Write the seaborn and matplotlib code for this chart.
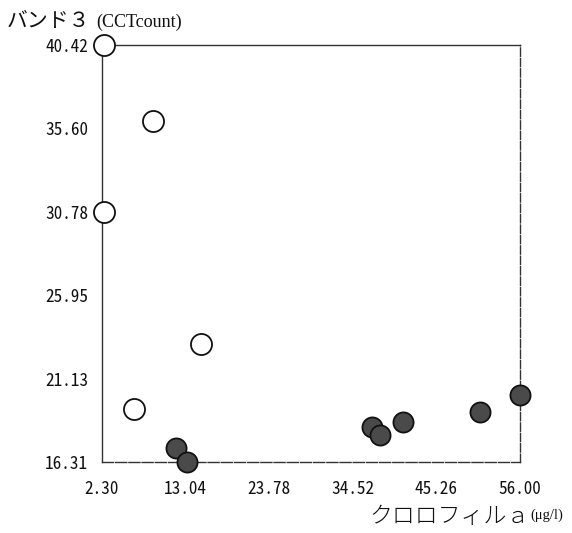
import matplotlib
matplotlib.use("Agg")
import matplotlib.pyplot as plt
import seaborn as sns
import pandas as pd

# Band 3 count vs chlorophyll-a
open_x = [2.55, 8.85, 2.55, 15.0, 6.4]
open_y = [40.42, 36.05, 30.78, 23.13, 19.37]
filled_x = [11.8, 13.2, 37.0, 38.0, 41.0, 50.9, 56.0]
filled_y = [17.12, 16.33, 18.33, 17.85, 18.62, 19.2, 20.18]

x_ticks = [2.30, 13.04, 23.78, 34.52, 45.26, 56.00]
y_ticks = [16.31, 21.13, 25.95, 30.78, 35.60, 40.42]

sns.set_theme(style="white")
plt.rcParams["font.family"] = ["Noto Sans CJK JP", "DejaVu Sans"]

TICK_FONT = ["Noto Sans Mono CJK JP", "Liberation Mono"]

fig = plt.figure(figsize=(5.72, 5.33), dpi=100)
ax = fig.add_axes([0.1783, 0.1332, 0.7308, 0.7824])

df_open = pd.DataFrame({"x": open_x, "y": open_y})
df_filled = pd.DataFrame({"x": filled_x, "y": filled_y})

sns.scatterplot(data=df_open, x="x", y="y", ax=ax, s=230, marker="o",
                facecolor="white", edgecolor="#111111", linewidth=1.3,
                clip_on=False, zorder=3)
sns.scatterplot(data=df_filled, x="x", y="y", ax=ax, s=210, marker="o",
                facecolor="#4a4a4a", edgecolor="#111111", linewidth=1.3,
                clip_on=False, zorder=3)

ax.set_xlim(x_ticks[0], x_ticks[-1])
ax.set_ylim(y_ticks[0], y_ticks[-1])
ax.set_xticks(x_ticks)
ax.set_yticks(y_ticks)
ax.set_xticklabels([f"{v:.2f}" for v in x_ticks], family=TICK_FONT, fontsize=12.4)
ax.set_yticklabels([f"{v:.2f}" for v in y_ticks], family=TICK_FONT, fontsize=12.4)
ax.tick_params(axis="both", direction="in", length=5, width=1.0, colors="#222222",
               labelcolor="#111111")
ax.tick_params(axis="x", pad=13)
ax.tick_params(axis="y", pad=10)
ax.set_xlabel("")
ax.set_ylabel("")

for side in ["left", "bottom", "top", "right"]:
    ax.spines[side].set_visible(True)
    ax.spines[side].set_color("#333333")
    ax.spines[side].set_linewidth(1.0)
ax.spines["right"].set_linestyle((0, (6, 1.5)))
ax.spines["bottom"].set_linestyle((0, (8, 1.5)))

# Axis titles
fig.text(0.012, 0.949, "バンド３", fontsize=15, family=["Noto Sans CJK JP", "DejaVu Sans"],
         ha="left", va="baseline", color="#111111")
fig.text(0.168, 0.949, "(CCTcount)", fontsize=13, family="Liberation Serif",
         ha="left", va="baseline", color="#111111")
fig.text(0.645, 0.019, "クロロフィルａ", fontsize=16.5, family=["Noto Sans CJK JP", "DejaVu Sans"],
         ha="left", va="baseline", color="#111111", fontweight="light")
fig.text(0.928, 0.027, "(μg/l)", fontsize=10.5, family="Liberation Serif",
         ha="left", va="baseline", color="#111111")

fig.savefig("out.png", dpi=100)
